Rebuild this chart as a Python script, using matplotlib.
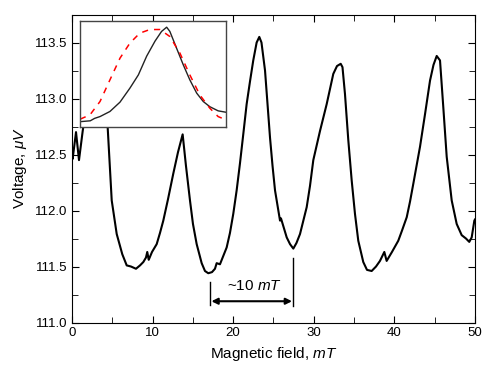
import numpy as np
import matplotlib.pyplot as plt

plt.rcParams['font.family'] = ['Liberation Sans', 'DejaVu Sans']
plt.rcParams['mathtext.fontset'] = 'custom'
plt.rcParams['mathtext.rm'] = 'Liberation Sans'
plt.rcParams['mathtext.it'] = 'Liberation Sans:italic'

# main trace
field = [0.0, 0.08, 0.5, 0.87, 1.33, 1.43, 2.5, 3.2, 3.8, 4.43, 4.93, 5.55, 6.24, 6.79,
         7.32, 7.94, 8.44, 8.85, 9.18, 9.34, 9.52, 9.93, 10.51, 10.92, 11.33, 11.91,
         12.57, 13.15, 13.73, 14.14, 14.64, 15.01, 15.47, 16.09, 16.5, 16.91, 17.37,
         17.74, 17.95, 18.36, 19.19, 19.6, 20.01, 20.43, 20.84, 21.25, 21.67, 22.08,
         22.49, 22.91, 23.24, 23.51, 23.95, 24.26, 24.57, 24.88, 25.19, 25.81, 25.93,
         26.64, 27.05, 27.46, 27.85, 28.29, 29.12, 29.53, 29.94, 30.77, 31.6, 32.42,
         32.88, 33.34, 33.56, 33.87, 34.28, 34.7, 35.11, 35.52, 36.14, 36.6, 37.18,
         37.72, 38.21, 38.75, 39.04, 39.7, 40.48, 40.94, 41.53, 41.94, 42.35, 43.18,
         43.8, 44.42, 44.85, 45.25, 45.66, 46.07, 46.49, 47.11, 47.73, 48.35, 48.88,
         49.29, 49.59, 49.92, 50.0]
voltage = [112.48, 112.46, 112.70, 112.45, 112.71, 112.76, 113.3, 113.45, 113.3, 112.74,
           112.09, 111.79, 111.61, 111.51, 111.50, 111.48, 111.51, 111.54, 111.58, 111.63,
           111.56, 111.63, 111.70, 111.80, 111.91, 112.10, 112.33, 112.52, 112.68, 112.40,
           112.09, 111.88, 111.70, 111.53, 111.46, 111.44, 111.45, 111.48, 111.53, 111.52,
           111.67, 111.80, 111.97, 112.18, 112.42, 112.68, 112.95, 113.15, 113.34, 113.50,
           113.55, 113.50, 113.25, 112.95, 112.65, 112.40, 112.18, 111.91, 111.93, 111.76,
           111.70, 111.66, 111.71, 111.79, 112.03, 112.22, 112.45, 112.71, 112.95, 113.22,
           113.29, 113.31, 113.28, 113.04, 112.63, 112.27, 111.97, 111.73, 111.54, 111.47,
           111.46, 111.50, 111.55, 111.63, 111.55, 111.63, 111.73, 111.82, 111.94, 112.08,
           112.24, 112.57, 112.86, 113.16, 113.30, 113.38, 113.34, 112.92, 112.48, 112.09,
           111.88, 111.78, 111.75, 111.72, 111.76, 111.91, 111.92]

# inset: measured peak (black) and fitted shape (red dashed), normalised units
ins_x = [0.01, 0.07, 0.10, 0.137, 0.205, 0.274, 0.342, 0.40, 0.457, 0.514, 0.559, 0.594,
         0.616, 0.662, 0.708, 0.753, 0.80, 0.845, 0.89, 0.947, 1.0]
ins_y = [0.05, 0.057, 0.08, 0.097, 0.145, 0.233, 0.365, 0.49, 0.667, 0.808, 0.90, 0.94,
         0.90, 0.742, 0.585, 0.443, 0.318, 0.239, 0.19, 0.151, 0.138]
fit_x = [0.0, 0.068, 0.137, 0.205, 0.274, 0.342, 0.41, 0.479, 0.548, 0.616, 0.685, 0.753,
         0.822, 0.89, 0.947, 1.0]
fit_y = [0.072, 0.113, 0.239, 0.443, 0.648, 0.79, 0.884, 0.918, 0.918, 0.852, 0.695, 0.49,
         0.30, 0.176, 0.097, 0.066]

fig = plt.figure(figsize=(4.91, 3.72), dpi=100)
ax = fig.add_axes([0.1466, 0.133, 0.8208, 0.828])
ax.plot(field, voltage, color='black', lw=1.5)

ax.set_xlim(0, 50)
ax.set_ylim(111.0, 113.75)
ax.set_xticks([0, 10, 20, 30, 40, 50])
ax.set_xticks([5, 15, 25, 35, 45], minor=True)
ax.set_yticks([111.0, 111.5, 112.0, 112.5, 113.0, 113.5])
ax.set_yticks([111.25, 111.75, 112.25, 112.75, 113.25], minor=True)
ax.set_yticklabels(['%.1f' % v for v in ax.get_yticks()])
ax.tick_params(which='both', direction='in', top=True, right=True, labelsize=9.5)
ax.tick_params(which='major', length=5)
ax.tick_params(which='minor', length=4)
ax.set_xlabel('Magnetic field, $mT$', fontsize=11)
ax.set_ylabel('Voltage, $\\mu V$', fontsize=11)

# period marker
ax.plot([17.1, 17.1], [111.16, 111.36], color='black', lw=1)
ax.plot([27.45, 27.45], [111.15, 111.58], color='black', lw=1)
ax.annotate('', xy=(17.3, 111.19), xytext=(27.3, 111.19),
            arrowprops=dict(arrowstyle='<|-|>', color='black', lw=1.5, mutation_scale=9,
                            shrinkA=0, shrinkB=0))
ax.text(22.6, 111.33, '~10 $mT$', ha='center', va='center', fontsize=11)

ins = fig.add_axes([0.163, 0.659, 0.297, 0.285])
ins.plot(ins_x, ins_y, color='#222222', lw=1)
ins.plot(fit_x, fit_y, color='red', lw=1.1, ls=(0, (4, 4)))
ins.set_xlim(0, 1)
ins.set_ylim(0, 1)
ins.set_xticks([])
ins.set_yticks([])
for s in ins.spines.values():
    s.set_color('#444444')
    s.set_linewidth(1)

fig.savefig('out.png', dpi=100)
